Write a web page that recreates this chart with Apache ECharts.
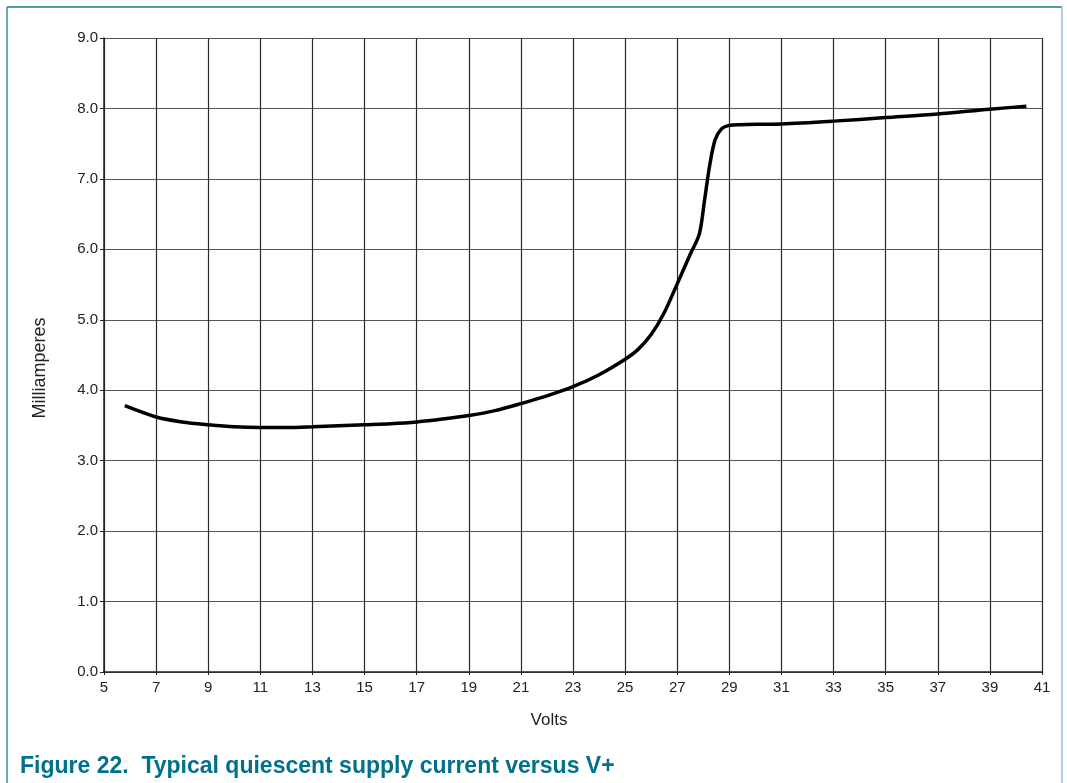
<!DOCTYPE html>
<html>
<head>
<meta charset="utf-8">
<script src="https://cdn.jsdelivr.net/npm/echarts@6/dist/echarts.min.js"></script>
<style>
html,body{margin:0;padding:0;background:#fff;}
#chart{width:1067px;height:783px;}
</style>
</head>
<body>
<div id="chart"></div>
<script>
const volts = [5.8, 7, 8, 9, 10, 11, 12, 13, 14, 15, 16, 17, 18, 19, 20, 21, 22, 23, 24, 25, 25.5, 26, 26.5, 27, 27.5, 27.85, 28.05, 28.25, 28.45, 28.7, 29.0, 29.4, 31, 33, 35, 37, 39, 40.4];
const milliamps = [3.78, 3.62, 3.55, 3.51, 3.48, 3.47, 3.47, 3.48, 3.495, 3.51, 3.525, 3.55, 3.59, 3.64, 3.71, 3.81, 3.92, 4.05, 4.22, 4.44, 4.58, 4.79, 5.1, 5.51, 5.93, 6.22, 6.7, 7.2, 7.55, 7.71, 7.76, 7.77, 7.78, 7.82, 7.87, 7.92, 7.99, 8.03];
const xTicks = [5, 7, 9, 11, 13, 15, 17, 19, 21, 23, 25, 27, 29, 31, 33, 35, 37, 39, 41];
const yTicks = [0, 1, 2, 3, 4, 5, 6, 7, 8, 9];
const caption = 'Figure 22.  Typical quiescent supply current versus V+';
const xName = 'Volts';
const yName = 'Milliamperes';

const chart = echarts.init(document.getElementById('chart'), null, {renderer: 'canvas'});
const data = volts.map((v, i) => [v, milliamps[i]]);
const font = '"Liberation Sans", Arial, sans-serif';

chart.setOption({
  animation: false,
  backgroundColor: '#ffffff',
  grid: {left: 104, right: 25, top: 38, bottom: 111, containLabel: false},
  xAxis: {
    type: 'value',
    min: xTicks[0], max: xTicks[xTicks.length - 1], interval: 2,
    axisLine: {show: true, lineStyle: {color: '#222', width: 1.5}},
    axisTick: {show: true, length: 3, lineStyle: {color: '#222'}},
    axisLabel: {fontFamily: font, fontSize: 15, color: '#222', margin: 8},
    splitLine: {show: true, lineStyle: {color: '#2a2a2a', width: 1.2}}
  },
  yAxis: {
    type: 'value',
    min: yTicks[0], max: yTicks[yTicks.length - 1], interval: 1,
    axisLine: {show: true, lineStyle: {color: '#222', width: 1.5}},
    axisTick: {show: true, length: 4, lineStyle: {color: '#222'}},
    axisLabel: {fontFamily: font, fontSize: 15, color: '#222', margin: 6,
      formatter: v => v.toFixed(1)},
    splitLine: {show: true, lineStyle: {color: '#555', width: 1.2}}
  },
  series: [{
    type: 'line',
    data: data,
    smooth: 0.3,
    showSymbol: false,
    lineStyle: {color: '#000', width: 3.5}
  }],
  graphic: [
    {type: 'line', shape: {x1: 7, y1: 7, x2: 1062, y2: 7}, style: {stroke: '#4f9db3', lineWidth: 2}},
    {type: 'line', shape: {x1: 7, y1: 7, x2: 7, y2: 783}, style: {stroke: '#3f8ea5', lineWidth: 1.5}},
    {type: 'line', shape: {x1: 1062, y1: 7, x2: 1062, y2: 783}, style: {stroke: '#8fc3d3', lineWidth: 1.5}},
    {type: 'text', x: 549, y: 720, style: {text: xName, font: '17px "Liberation Sans", Arial, sans-serif', fill: '#222', align: 'center', verticalAlign: 'middle'}},
    {type: 'text', x: 40, y: 368, rotation: Math.PI / 2, style: {text: yName, font: '18px "Liberation Sans", Arial, sans-serif', fill: '#222', align: 'center', verticalAlign: 'middle'}},
    {type: 'text', left: 20, top: 755, style: {text: caption, font: 'bold 23px "Liberation Sans", Arial, sans-serif', fill: '#00708c'}}
  ]
});
</script>
</body>
</html>
